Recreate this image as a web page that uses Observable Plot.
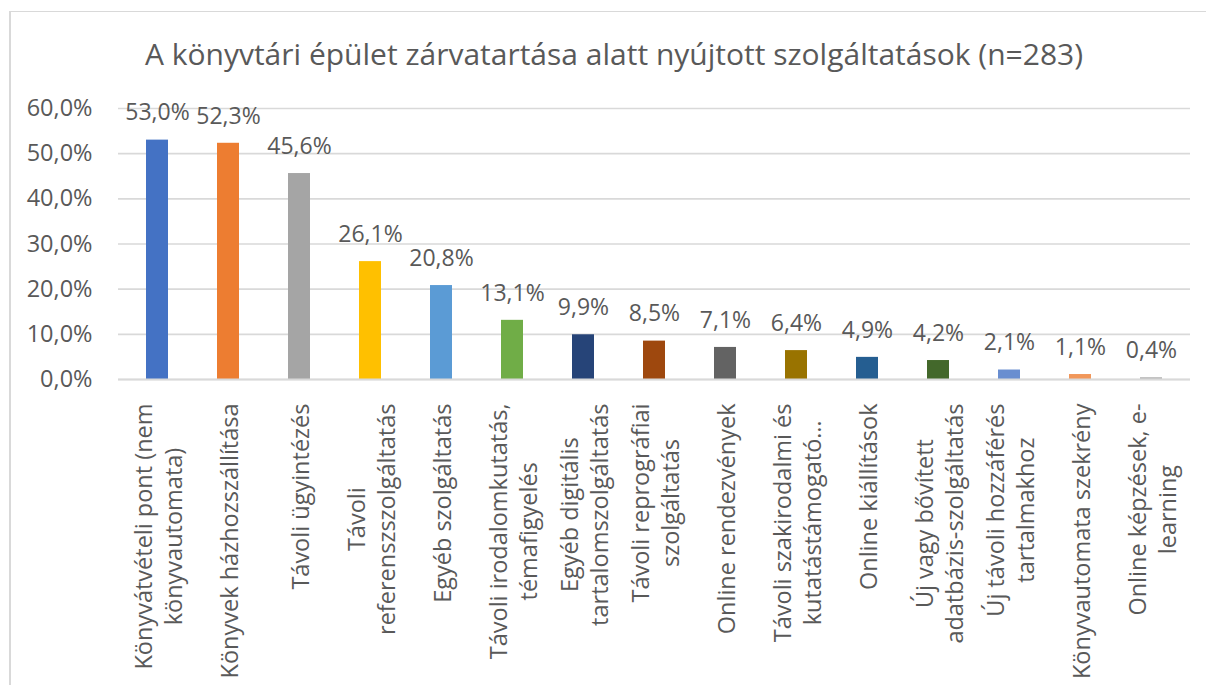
<!DOCTYPE html>
<html><head><meta charset="utf-8">
<script src="https://cdn.jsdelivr.net/npm/d3@7"></script>
<script src="https://cdn.jsdelivr.net/npm/@observablehq/plot@0.6"></script>
<style>
html,body{margin:0;padding:0;background:#fff;overflow:hidden;width:1206px;height:685px}
#frame{position:absolute;left:9px;top:11px;width:1240px;height:720px;border-left:2px solid #d9d9d9;border-top:1px solid #d9d9d9;box-sizing:border-box}
#title{position:absolute;left:0;top:35px;width:1228px;text-align:center;font-family:"Open Sans",sans-serif;font-size:30px;line-height:38px;color:#595959;white-space:nowrap}
#chart{position:absolute;left:0;top:85px}
</style></head>
<body>
<div id="frame"></div>
<div id="title">A könyvtári épület zárvatartása alatt nyújtott szolgáltatások (n=283)</div>
<div id="chart"></div>
<script>
const categories = [
  "Könyvátvételi pont (nem\nkönyvautomata)",
  "Könyvek házhozszállítása",
  "Távoli ügyintézés",
  "Távoli\nreferenszszolgáltatás",
  "Egyéb szolgáltatás",
  "Távoli irodalomkutatás,\ntémafigyelés",
  "Egyéb digitális\ntartalomszolgáltatás",
  "Távoli reprográfiai\nszolgáltatás",
  "Online rendezvények",
  "Távoli szakirodalmi és\nkutatástámogató…",
  "Online kiállítások",
  "Új vagy bővített\nadatbázis-szolgáltatás",
  "Új távoli hozzáférés\ntartalmakhoz",
  "Könyvautomata szekrény",
  "Online képzések, e-\nlearning"
];
const values = [53.0, 52.3, 45.6, 26.1, 20.8, 13.1, 9.9, 8.5, 7.1, 6.4, 4.9, 4.2, 2.1, 1.1, 0.4];
const colors = ["#4472C4","#ED7D31","#A5A5A5","#FFC000","#5B9BD5","#70AD47","#264478","#9E480E","#636363","#997300","#255E91","#43682B","#698ED0","#F1975A","#B7B7B7"];
const yTicks = [0, 10, 20, 30, 40, 50, 60];

const FONT = '"Open Sans", sans-serif';
const labelSize = 23.5;
const width = 1206, height = 600;
const marginTop = 23, marginBottom = 306, marginLeft = 118, marginRight = 16;
const pxPerUnit = (height - marginTop - marginBottom) / 60;
const labelGap = 24;

const ctx = document.createElement("canvas").getContext("2d");
ctx.font = `${labelSize}px ${FONT}`;
const data = categories.map((c, i) => {
  const maxLen = d3.max(c.split("\n"), l => ctx.measureText(l).width);
  return {cat: c, value: values[i], color: colors[i], labelY: -(labelGap + maxLen / 2) / pxPerUnit};
});
const fmt = v => v.toFixed(1).replace(".", ",") + "%";

const chart = Plot.plot({
  width, height, marginTop, marginBottom, marginLeft, marginRight,
  style: {fontFamily: FONT, color: "#595959", background: "transparent", overflow: "visible"},
  x: {domain: categories, paddingInner: 0.687, paddingOuter: 0.3435, axis: null},
  y: {domain: [0, 60], axis: null},
  marks: [
    Plot.gridY(yTicks, {stroke: "#d9d9d9", strokeOpacity: 1, strokeWidth: 1.6}),
    Plot.barY(data, {x: "cat", y: "value", fill: "color"}),
    Plot.ruleY([0], {stroke: "#d9d9d9", strokeWidth: 2.2}),
    Plot.text(yTicks, {y: d => d, text: fmt, frameAnchor: "left", textAnchor: "end", lineAnchor: "middle", dx: -26, fontSize: 23.5, fill: "#595959"}),
    Plot.text(data, {x: "cat", y: "value", text: d => fmt(d.value), dy: -27, lineAnchor: "middle", fontSize: 23, fill: "#595959"}),
    Plot.text(data, {x: "cat", y: "labelY", text: "cat", rotate: -90, textAnchor: "middle", lineAnchor: "middle", lineHeight: 1.27, fontSize: labelSize, fill: "#595959"})
  ]
});
document.getElementById("chart").appendChild(chart);
</script>
</body></html>
